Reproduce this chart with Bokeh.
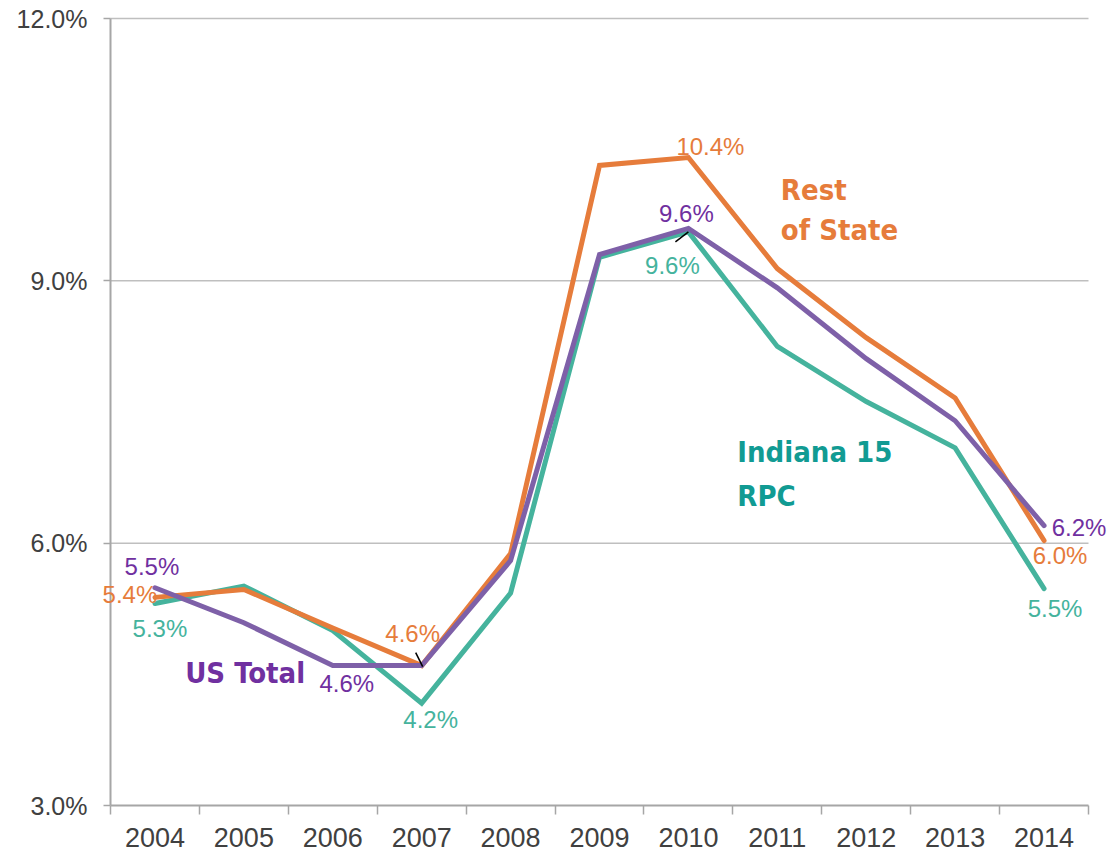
from bokeh.plotting import figure
from bokeh.models import Range1d, FixedTicker, Label, LinearAxis
from bokeh.embed import file_html
from bokeh.resources import INLINE

years = ["2004", "2005", "2006", "2007", "2008", "2009", "2010", "2011", "2012", "2013", "2014"]
rest_of_state = [5.38, 5.47, 5.03, 4.60, 5.88, 10.32, 10.41, 9.14, 8.35, 7.66, 6.03]
indiana_15 = [5.31, 5.51, 5.00, 4.17, 5.43, 9.27, 9.56, 8.25, 7.62, 7.09, 5.48]
us_total = [5.49, 5.09, 4.60, 4.60, 5.80, 9.30, 9.60, 8.92, 8.11, 7.40, 6.20]
y_ticks = [3, 6, 9, 12]

ORANGE = "#E67C3B"
TEAL = "#45B39D"
PURPLE_LINE = "#7E60A8"
PURPLE_TEXT = "#7030A0"
TEAL_NAME = "#119B93"
AXIS_GRAY = "#A6A6A6"
FONT = "Liberation Sans"
NAME_FONT = "'DejaVu Sans Condensed', 'Roboto', sans-serif"

W, H = 1112, 852
# plotting area (pixels) inside the canvas
LEFT, RIGHT, TOP, BOTTOM = 110, 1088, 18, 805
n = len(years)
y_lo, y_hi = y_ticks[0], y_ticks[-1]
PX_X = (RIGHT - LEFT) / n
PX_Y = (BOTTOM - TOP) / (y_hi - y_lo)

xs = [i + 0.5 for i in range(n)]

# frame covers the whole canvas so that labels near the axes are not clipped;
# axes are placed at fixed data locations.
p = figure(width=W, height=H, output_backend="svg", toolbar_location=None,
           x_axis_location=None, y_axis_location=None,
           x_range=Range1d(-LEFT / PX_X, (W - LEFT) / PX_X),
           y_range=Range1d(y_lo - (H - BOTTOM) / PX_Y, y_lo + BOTTOM / PX_Y))
p.min_border = 0
p.min_border_left = 0
p.min_border_right = 0
p.min_border_top = 0
p.min_border_bottom = 0
p.outline_line_color = None
p.background_fill_color = "white"
p.grid.visible = False

# horizontal gridlines
grid_vals = y_ticks[1:]
p.segment(x0=[0] * len(grid_vals), y0=grid_vals, x1=[n] * len(grid_vals), y1=grid_vals,
          line_color="#BFBFBF", line_width=1.5)

# x axis
xaxis = LinearAxis(fixed_location=y_lo, bounds=(0, n))
xaxis.ticker = FixedTicker(ticks=xs, minor_ticks=list(range(n + 1)))
xaxis.major_label_overrides = {x: y for x, y in zip(xs, years)}
xaxis.major_tick_out = 0
xaxis.major_tick_in = 0
xaxis.minor_tick_out = 9
xaxis.minor_tick_in = 0
xaxis.minor_tick_line_color = AXIS_GRAY
xaxis.minor_tick_line_width = 1.5
xaxis.axis_line_color = AXIS_GRAY
xaxis.axis_line_width = 2
xaxis.major_label_standoff = 13
xaxis.major_label_text_font = FONT
xaxis.major_label_text_font_size = "27px"
xaxis.major_label_text_color = "#404040"
p.add_layout(xaxis, "below")

# y axis
yaxis = LinearAxis(fixed_location=0, bounds=(y_lo, y_hi))
yaxis.ticker = FixedTicker(ticks=y_ticks, minor_ticks=[])
yaxis.major_label_overrides = {t: f"{t:.1f}%" for t in y_ticks}
yaxis.major_tick_out = 7
yaxis.major_tick_in = 0
yaxis.major_tick_line_color = AXIS_GRAY
yaxis.major_tick_line_width = 1.5
yaxis.axis_line_color = AXIS_GRAY
yaxis.axis_line_width = 2
yaxis.major_label_standoff = 16
yaxis.major_label_text_font = FONT
yaxis.major_label_text_font_size = "25px"
yaxis.major_label_text_color = "#404040"
p.add_layout(yaxis, "left")

# lines
for vals, col in [(indiana_15, TEAL), (rest_of_state, ORANGE), (us_total, PURPLE_LINE)]:
    p.line(xs, vals, line_color=col, line_width=5, line_cap="round", line_join="miter")

def data_from_px(ix, vals, dx, dy):
    return xs[ix] + dx / PX_X, vals[ix] - dy / PX_Y

# leader lines
a = data_from_px(3, rest_of_state, -6, -13)
b = data_from_px(3, rest_of_state, 1, 1)
p.segment(x0=[a[0]], y0=[a[1]], x1=[b[0]], y1=[b[1]], line_color="black", line_width=1.5)
a = data_from_px(6, indiana_15, -13, 10)
b = data_from_px(6, indiana_15, 0, 0)
p.segment(x0=[a[0]], y0=[a[1]], x1=[b[0]], y1=[b[1]], line_color="black", line_width=1.5)

# data labels: (series, index, dx, dy, color)
labels = [
    (rest_of_state, 0, -25, -3, ORANGE),
    (us_total, 0, -3, -21, PURPLE_TEXT),
    (indiana_15, 0, 5, 25, TEAL),
    (rest_of_state, 3, -9, -32, ORANGE),
    (us_total, 2, 14, 18, PURPLE_TEXT),
    (indiana_15, 3, 9, 16, TEAL),
    (rest_of_state, 6, 22, -11, ORANGE),
    (us_total, 6, -2, -15, PURPLE_TEXT),
    (indiana_15, 6, -16, 34, TEAL),
    (us_total, 10, 35, 2, PURPLE_TEXT),
    (rest_of_state, 10, 16, 15, ORANGE),
    (indiana_15, 10, 11, 20, TEAL),
]
for s, i, dx, dy, c in labels:
    lx, ly = data_from_px(i, s, dx, dy)
    p.add_layout(Label(x=lx, y=ly, text=f"{s[i]:.1f}%", text_color=c, text_font=FONT,
                       text_font_size="24px", text_align="center", text_baseline="middle"))

# series names
for txt, x, y, col in [("Rest", 7.54, 10.04, ORANGE), ("of State", 7.54, 9.58, ORANGE),
                       ("Indiana 15", 7.05, 7.04, TEAL_NAME), ("RPC", 7.05, 6.54, TEAL_NAME),
                       ("US Total", 0.84, 4.51, PURPLE_TEXT)]:
    p.add_layout(Label(x=x, y=y, text=txt, text_color=col, text_font=NAME_FONT,
                       text_font_size="29px", text_font_style="bold",
                       text_baseline="alphabetic", text_align="left"))

open("out.html", "w").write(file_html(p, INLINE))
